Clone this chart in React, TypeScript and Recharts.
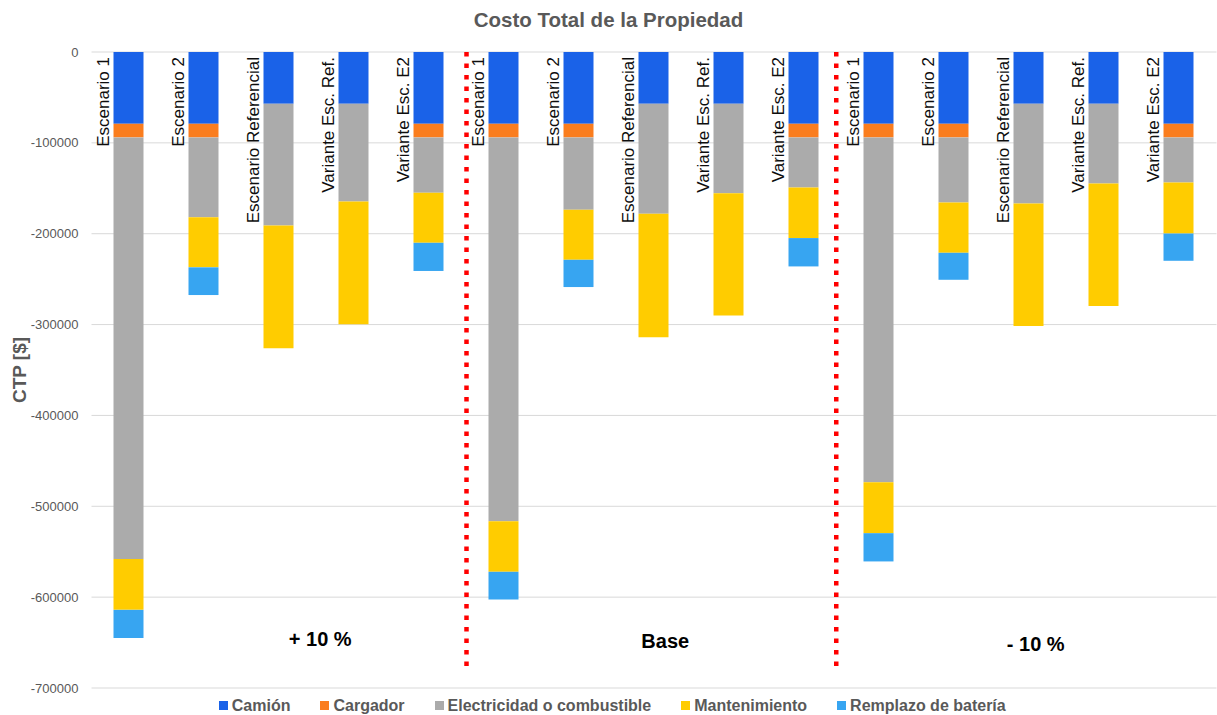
import { BarChart, Bar, XAxis, YAxis, CartesianGrid, Legend, ReferenceLine, ReferenceDot, LabelList } from 'recharts';

const FONT = "'Liberation Sans', Arial, sans-serif";
const NARROW = "'Liberation Sans Narrow', 'Liberation Sans', Arial, sans-serif";

// 3 escenarios de costo (+10 %, Base, -10 %), 5 casos cada uno
const CATEGORIES = [
  'Escenario 1', 'Escenario 2', 'Escenario Referencial', 'Variante Esc. Ref.', 'Variante Esc. E2',
  'Escenario 1', 'Escenario 2', 'Escenario Referencial', 'Variante Esc. Ref.', 'Variante Esc. E2',
  'Escenario 1', 'Escenario 2', 'Escenario Referencial', 'Variante Esc. Ref.', 'Variante Esc. E2',
];

const CAMION = [
  -79000, -79000, -57000, -57000, -79000,
  -79000, -79000, -57000, -57000, -79000,
  -79000, -79000, -57000, -57000, -79000,
];
const CARGADOR = [
  -15000, -15000, 0, 0, -15000,
  -15000, -15000, 0, 0, -15000,
  -15000, -15000, 0, 0, -15000,
];
const ELECTRICIDAD = [
  -464000, -88000, -134000, -107600, -61000,
  -422500, -79700, -121000, -98400, -55200,
  -379500, -71700, -109800, -87800, -49700,
];
const MANTENIMIENTO = [
  -56000, -55000, -135000, -135000, -55000,
  -55600, -55000, -136000, -134500, -55600,
  -56100, -55300, -134800, -134800, -56100,
];
const BATERIA = [
  -31000, -30500, 0, 0, -31000,
  -30500, -30000, 0, 0, -31200,
  -31100, -29700, 0, 0, -30000,
];

const Y_TICKS = [0, -100000, -200000, -300000, -400000, -500000, -600000, -700000];
const GROUP_LABELS = ['+ 10 %', 'Base', '- 10 %'];

const data = CATEGORIES.map((name, i) => ({
  name,
  pos: i + 0.5,
  camion: CAMION[i],
  cargador: CARGADOR[i],
  electricidad: ELECTRICIDAD[i],
  mantenimiento: MANTENIMIENTO[i],
  bateria: BATERIA[i],
}));

// where the group captions and separators sit (x in category units, y in axis units)
const groupLabelAt = [
  { x: 3.05, y: -646500 },
  { x: 7.65, y: -648700 },
  { x: 12.59, y: -652000 },
];
const separators = [5, 9.93];

// rotated scenario name, drawn left of each bar, hanging from the 0 line
function BarName(props: any) {
  const vb = props.viewBox ?? props;
  const { x, y, width, height } = vb;
  const top = Math.min(y, y + height);
  const cx = x + width / 2;
  return (
    <text
      transform={`translate(${cx - 20},${top + 5}) rotate(-90)`}
      textAnchor="end"
      fontSize={17}
      fontFamily={FONT}
      fill="#0d0d0d"
    >
      {props.value}
    </text>
  );
}

function YTitle(props: any) {
  const { viewBox } = props;
  const cx = viewBox.x + 19;
  const cy = viewBox.y + viewBox.height / 2;
  return (
    <text
      transform={`translate(${cx},${cy}) rotate(-90)`}
      textAnchor="middle"
      dominantBaseline="central"
      fontSize={19}
      fontWeight="bold"
      fontFamily={FONT}
      fill="#595959"
    >
      CTP [$]
    </text>
  );
}

function LegendContent(props: any) {
  const { payload = [] } = props;
  return (
    <div
      style={{
        display: 'flex',
        justifyContent: 'center',
        gap: 30,
        paddingTop: 8,
        paddingLeft: 8,
        height: 19,
        fontFamily: FONT,
        fontWeight: 'bold',
        fontSize: 16,
        color: '#595959',
        lineHeight: '19px',
      }}
    >
      {payload.map((entry: any) => (
        <span key={entry.value} style={{ display: 'flex', alignItems: 'center' }}>
          <span style={{ width: 9, height: 9, background: entry.color, marginRight: 4 }} />
          {entry.value}
        </span>
      ))}
    </div>
  );
}

export default function App() {
  return (
    <div style={{ position: 'absolute', left: 0, top: 0, width: 1217, height: 715, background: '#fff' }}>
      <div
        style={{
          position: 'absolute',
          top: 8,
          left: 0,
          width: 1217,
          textAlign: 'center',
          fontFamily: FONT,
          fontWeight: 'bold',
          fontSize: 20.5,
          lineHeight: '24px',
          color: '#595959',
        }}
      >
        Costo Total de la Propiedad
      </div>
      <BarChart
        width={1217}
        height={715}
        data={data}
        margin={{ top: 52, right: 0.5, left: 0, bottom: 0 }}
      >
        <CartesianGrid vertical={false} stroke="#d9d9d9" />
        <XAxis dataKey="pos" type="number" domain={[0, 15]} hide />
        <YAxis
          domain={[-700000, 0]}
          ticks={Y_TICKS}
          width={91.5}
          axisLine={false}
          tickLine={false}
          tickSize={0}
          tickMargin={13}
          tick={{ fill: '#595959', fontSize: 13, fontFamily: FONT }}
          label={<YTitle />}
        />
        <Legend verticalAlign="bottom" content={<LegendContent />} />

        <Bar dataKey="camion" name="Camión" stackId="a" fill="#1a62e8" barSize={30} isAnimationActive={false}>
          <LabelList dataKey="name" content={<BarName />} />
        </Bar>
        <Bar dataKey="cargador" name="Cargador" stackId="a" fill="#fa7d1e" barSize={30} isAnimationActive={false} />
        <Bar dataKey="electricidad" name="Electricidad o combustible" stackId="a" fill="#ababab" barSize={30} isAnimationActive={false} />
        <Bar dataKey="mantenimiento" name="Mantenimiento" stackId="a" fill="#ffcc00" barSize={30} isAnimationActive={false} />
        <Bar dataKey="bateria" name="Remplazo de batería" stackId="a" fill="#37a5f1" barSize={30} isAnimationActive={false} />

        {/* Separadores entre escenarios - rojo punteado */}
        {separators.map((x) => (
          <ReferenceLine
            key={x}
            segment={[{ x, y: 0 }, { x, y: -682000 }]}
            stroke="#ff0000"
            strokeWidth={4.5}
            strokeDasharray="4.5 7"
          />
        ))}

        {GROUP_LABELS.map((label, i) => (
          <ReferenceDot
            key={label}
            x={groupLabelAt[i].x}
            y={groupLabelAt[i].y}
            r={1}
            fill="none"
            stroke="none"
            label={{
              value: label,
              position: 'center',
              fill: '#000',
              fontSize: 20,
              fontWeight: 'bold',
              fontFamily: NARROW,
            }}
          />
        ))}
      </BarChart>
    </div>
  );
}
